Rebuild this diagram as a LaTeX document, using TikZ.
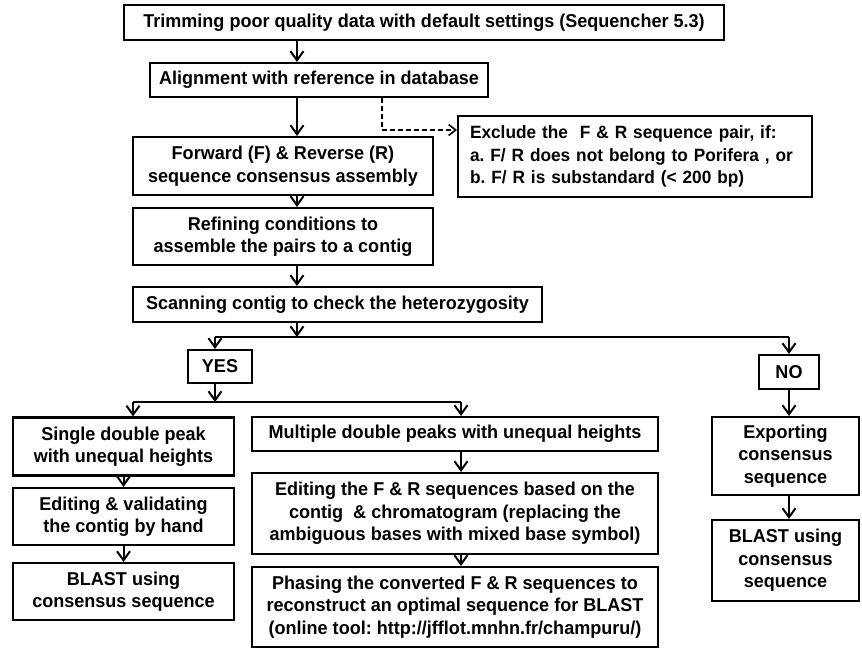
\documentclass[tikz,border=0pt]{standalone}
\usepackage{fontspec}
\setmainfont{Liberation Sans}[FakeStretch=0.97]
\usetikzlibrary{arrows.meta}
\begin{document}
\frenchspacing
\begin{tikzpicture}[x=1pt,y=-1pt,
  box/.style={draw,line width=2.1pt,inner sep=0pt,align=center,
    font=\bfseries\fontsize{18.6}{22.5}\selectfont},
  arr/.style={line width=2pt,-{Straight Barb[length=9pt,width=13pt,line width=2pt]}},
  ln/.style={line width=2pt},
  dsh/.style={line width=1.6pt,dash pattern=on 5pt off 3pt,-{Straight Barb[length=7pt,width=11pt,line width=1.6pt]}}]
\useasboundingbox (0,0) rectangle (862,648);
% nodes
\node[box,minimum width=600,minimum height=35] (trim) at (424,22.5) {Trimming poor quality data with default settings (Sequencher 5.3)};
\node[box,minimum width=338,minimum height=34] (align) at (319,80) {Alignment with reference in database};
\node[box,text width=330,inner xsep=12pt,minimum height=81,align=left,
  font=\bfseries\fontsize{17.8}{22.5}\selectfont] (excl) at (635,156.5) {\mbox{Exclude the\ \ F \& R sequence pair, if:}\\\mbox{a. F/ R does not belong to Porifera , or}\\\mbox{b. F/ R is substandard (< 200 bp)}};
\node[box,minimum width=300,minimum height=58] (fr) at (283,166) {Forward (F) \& Reverse (R)\\sequence consensus assembly};
\node[box,minimum width=300,minimum height=57] (refine) at (283,236.5) {Refining conditions to\\assemble the pairs to a contig};
\node[box,minimum width=409,minimum height=35] (scan) at (337.5,304.5) {Scanning contig to check the heterozygosity};
\node[box,minimum width=64,minimum height=33] (yes) at (220,366.5) {YES};
\node[box,minimum width=60,minimum height=34] (no) at (789,372) {NO};
\node[box,minimum width=221,minimum height=58] (single) at (123.5,446.5) {Single double peak\\with unequal heights};
\node[box,minimum width=221,minimum height=57] (editL) at (123.5,516.5) {Editing \& validating\\the contig by hand};
\node[box,minimum width=221,minimum height=57] (blastL) at (123.5,591.5) {BLAST using\\consensus sequence};
\node[box,minimum width=406,minimum height=34] (multi) at (455,434) {Multiple double peaks with unequal heights};
\node[box,minimum width=406,minimum height=81] (editM) at (455,513.5) {Editing the F \& R sequences based on the\\contig\ \ \& chromatogram (replacing the\\ambiguous bases with mixed base symbol)};
\node[box,minimum width=406,minimum height=80] (phase) at (455,607) {Phasing the converted F \& R sequences to\\reconstruct an optimal sequence for BLAST\\(online tool: http://jfflot.mnhn.fr/champuru/)};
\node[box,minimum width=147,minimum height=78] (export) at (785.5,456) {Exporting\\consensus\\sequence};
\node[box,minimum width=147,minimum height=81] (blastR) at (785.5,560.5) {BLAST using\\consensus\\sequence};
% helper coordinates
\coordinate (colA) at (297,0);
\coordinate (dashx) at (382,0);
\coordinate (dashy) at (0,130);
\coordinate (br1) at (0,337);
\coordinate (yx) at (215,0);
\coordinate (br2) at (0,402);
\coordinate (sx) at (133,0);
\coordinate (mx) at (461,0);
% connectors
\draw[arr] (trim.south -| colA) -- (align.north -| colA);
\draw[arr] (align.south -| colA) -- (fr.north -| colA);
\draw[dsh] (align.south -| dashx) |- (excl.west |- dashy);
\draw[arr] (fr.south -| colA) -- (refine.north -| colA);
\draw[arr] (refine.south -| colA) -- (scan.north -| colA);
\draw[arr] (scan.south -| colA) -- (br1 -| colA);
\draw[ln] (br1 -| yx) -- (br1 -| no.north);
\draw[arr] (br1 -| yx) -- (yes.north -| yx);
\draw[arr] (br1 -| no.north) -- (no.north);
\draw[arr] (yes.south -| yx) -- (br2 -| yx);
\draw[ln] (br2 -| sx) -- (br2 -| mx);
\draw[arr] (br2 -| sx) -- (single.north -| sx);
\draw[arr] (br2 -| mx) -- (multi.north -| mx);
\draw[arr] (single.south) -- (editL.north);
\draw[arr] (editL.south) -- (blastL.north);
\draw[arr] (multi.south -| mx) -- (editM.north -| mx);
\draw[arr] (editM.south -| mx) -- (phase.north -| mx);
\draw[arr] (no.south) -- (export.north -| no.south);
\draw[arr] (export.south -| no.south) -- (blastR.north -| no.south);
\end{tikzpicture}
\end{document}
